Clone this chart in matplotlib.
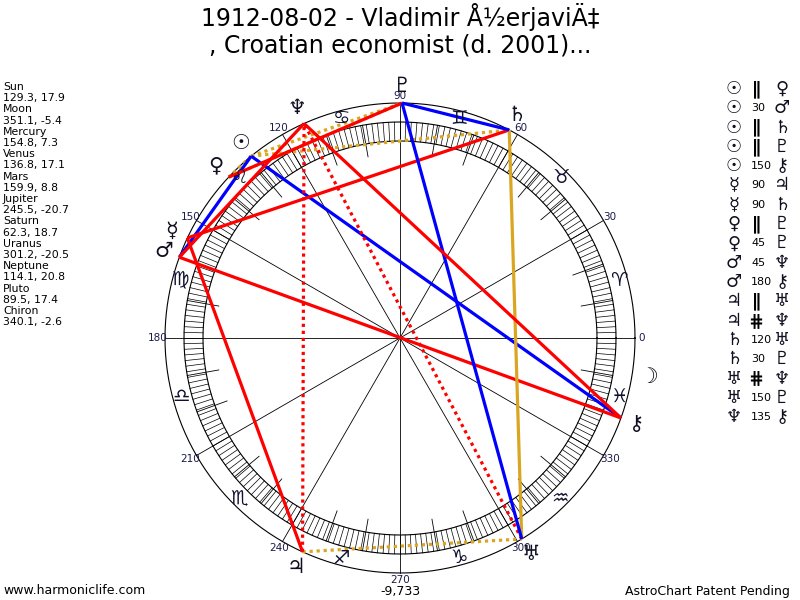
import numpy as np
import matplotlib
matplotlib.use("Agg")
import matplotlib.pyplot as plt

# ---------------- data ----------------
title_lines = ["1912-08-02 - Vladimir Å½erjaviÄ‡", ", Croatian economist (d. 2001)..."]
planet_names = ["Sun", "Moon", "Mercury", "Venus", "Mars", "Jupiter", "Saturn",
                "Uranus", "Neptune", "Pluto", "Chiron"]
planet_glyphs = ["☉", "☽", "☿", "♀", "♂", "♃", "♄", "♅", "♆", "♇", "⚷"]
planet_lon = [129.3, 351.1, 154.8, 136.8, 159.9, 245.5, 62.3, 301.2, 114.1, 89.5, 340.1]
planet_decl = [17.9, -5.4, 7.3, 17.1, 8.8, -20.7, 18.7, -20.5, 20.8, 17.4, -2.6]
sign_glyphs = ["♈", "♉", "♊", "♋", "♌", "♍", "♎", "♏", "♐", "♑", "♒", "♓"]
degree_labels = [0, 30, 60, 90, 120, 150, 180, 210, 240, 270, 300, 330]
aspect_p1 = ["Sun", "Sun", "Sun", "Sun", "Sun", "Mercury", "Mercury", "Venus", "Venus",
             "Mars", "Mars", "Jupiter", "Jupiter", "Saturn", "Saturn", "Uranus", "Uranus", "Neptune"]
aspect_type = ["par", "30", "par", "par", "150", "90", "90", "par", "45",
               "45", "180", "par", "cpar", "120", "30", "cpar", "150", "135"]
aspect_p2 = ["Venus", "Mars", "Saturn", "Pluto", "Chiron", "Jupiter", "Saturn", "Pluto", "Pluto",
             "Neptune", "Chiron", "Uranus", "Neptune", "Uranus", "Pluto", "Neptune", "Pluto", "Chiron"]
footer_left = "www.harmoniclife.com"
footer_mid = "-9,733"
footer_right = "AstroChart Patent Pending"

# ---------------- styles ----------------
RED, BLUE, GOLD = "#ff0000", "#0000ff", "#daa520"
aspect_style = {
    "par": dict(color=GOLD, ls=(0, (1, 1.2))),
    "cpar": dict(color=RED, ls=(0, (1, 1.2))),
    "30": dict(color=BLUE, ls="-"),
    "150": dict(color=BLUE, ls="-"),
    "120": dict(color=GOLD, ls="-"),
    "45": dict(color=RED, ls="-"),
    "90": dict(color=RED, ls="-"),
    "135": dict(color=RED, ls="-"),
    "180": dict(color=RED, ls="-"),
}
CX, CY = 400, 338
R_OUT, R_RING_O, R_RING_I, R_LONG = 235, 216, 197, 184
R_SIGN, R_PLANET, R_LABEL = 227, 252, 242
NAVY = "#1a1a4a"

fig = plt.figure(figsize=(8, 6), dpi=100)
ax = fig.add_axes([0, 0, 1, 1])
ax.set_xlim(0, 800)
ax.set_ylim(600, 0)
ax.axis("off")


def pt(lon, r):
    a = np.deg2rad(lon)
    return CX + r * np.cos(a), CY - r * np.sin(a)


# circles
th = np.linspace(0, 360, 721)
for r in (R_OUT, R_RING_O, R_RING_I):
    x, y = pt(th, r)
    ax.plot(x, y, color="black", lw=0.8, zorder=1)

# ring ticks
for d in np.arange(0, 360, 1.5):
    x, y = pt(np.array([d, d]), np.array([R_RING_I, R_RING_O]))
    ax.plot(x, y, color="black", lw=0.5, zorder=1)
for d in range(0, 360, 10):
    if d % 30 == 0:
        x, y = pt(np.array([d, d]), np.array([0, R_OUT]))
    else:
        x, y = pt(np.array([d, d]), np.array([R_LONG, R_RING_O]))
    ax.plot(x, y, color="black", lw=0.6, zorder=1)

# degree labels
for d in degree_labels:
    x, y = pt(d, R_LABEL)
    ax.text(x, y, str(d), fontsize=7.5, color=NAVY, ha="center", va="center", zorder=3)

# sign glyphs
for i, g in enumerate(sign_glyphs):
    x, y = pt(15 + 30 * i, R_SIGN)
    ax.text(x, y, g, fontsize=14, color="#101030", ha="center", va="center", zorder=3)

# planet glyphs
for g, lon in zip(planet_glyphs, planet_lon):
    x, y = pt(lon, R_PLANET)
    ax.text(x, y, g, fontsize=15, fontweight="bold", color="#101020",
            ha="center", va="center", zorder=3)

# aspect lines
lon_of = dict(zip(planet_names, planet_lon))
glyph_of = dict(zip(planet_names, planet_glyphs))
for p1, t, p2 in zip(aspect_p1, aspect_type, aspect_p2):
    x, y = pt(np.array([lon_of[p1], lon_of[p2]]), R_OUT)
    st = aspect_style[t]
    ax.plot(x, y, color=st["color"], ls=st["ls"], lw=2.3, zorder=2,
            solid_capstyle="butt", dash_capstyle="butt")

# title
ax.text(400, 17, title_lines[0], fontsize=17, ha="center", va="center")
ax.text(400, 46, title_lines[1], fontsize=17, ha="center", va="center")

# left data column
for i, (n, lon, dec) in enumerate(zip(planet_names, planet_lon, planet_decl)):
    ax.text(3, 87 + 2 * i * 11.2, n, fontsize=7.8, ha="left", va="center")
    ax.text(3, 87 + (2 * i + 1) * 11.2, f"{lon}, {dec}", fontsize=7.8, ha="left", va="center")

# aspect list
sym = {"par": "∥", "cpar": "⋕"}
for i, (p1, t, p2) in enumerate(zip(aspect_p1, aspect_type, aspect_p2)):
    y = 89 + i * 19.3
    ax.text(734, y, glyph_of[p1], fontsize=13, fontweight="bold", ha="center", va="center", color="#101020")
    if t in sym:
        ax.text(756, y, sym[t], fontsize=13, fontweight="bold", ha="center", va="center")
    else:
        ax.text(751, y, t, fontsize=8, ha="left", va="center")
    ax.text(782, y, glyph_of[p2], fontsize=13, fontweight="bold", ha="center", va="center", color="#101020")

# footer
ax.text(3, 591, footer_left, fontsize=9, ha="left", va="center")
ax.text(400, 591, footer_mid, fontsize=9, ha="center", va="center")
ax.text(790, 591, footer_right, fontsize=9, ha="right", va="center")

fig.savefig("out.png", dpi=100)
